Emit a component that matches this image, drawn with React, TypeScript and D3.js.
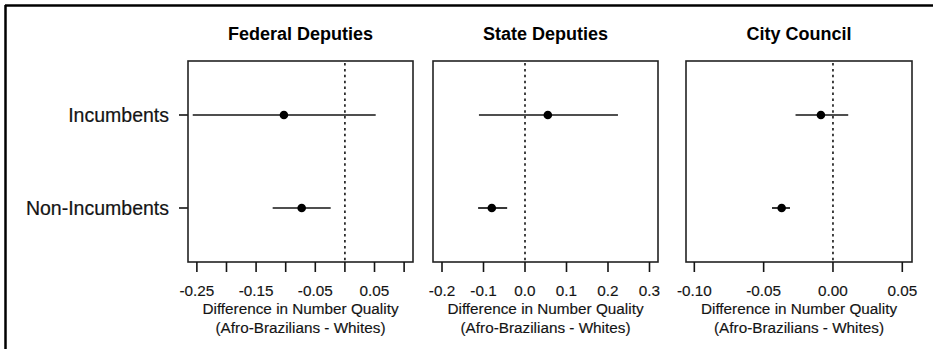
import React from "react";
import * as d3 from "d3";

const panelTitles = ["Federal Deputies", "State Deputies", "City Council"];
const groups = ["Incumbents", "Non-Incumbents"];
const estimates = [
  [-0.103, -0.073],
  [0.055, -0.08],
  [-0.0087, -0.037],
];
const lowerCI = [
  [-0.257, -0.122],
  [-0.111, -0.113],
  [-0.027, -0.044],
];
const upperCI = [
  [0.052, -0.024],
  [0.224, -0.043],
  [0.011, -0.031],
];
const tickValues = [
  [-0.25, -0.2, -0.15, -0.1, -0.05, 0, 0.05, 0.1],
  [-0.2, -0.1, 0, 0.1, 0.2, 0.3],
  [-0.1, -0.05, 0, 0.05],
];
const tickLabels = [
  ["-0.25", "", "-0.15", "", "-0.05", "", "0.05", ""],
  ["-0.2", "-0.1", "0.0", "0.1", "0.2", "0.3"],
  ["-0.10", "-0.05", "0.00", "0.05"],
];
const domains: [number, number][] = [
  [-0.265, 0.115],
  [-0.2217, 0.3205],
  [-0.106, 0.057],
];
const axisTitle1 = "Difference in Number Quality";
const axisTitle2 = "(Afro-Brazilians - Whites)";

// layout
const W = 933;
const H = 349;
const panelX: [number, number][] = [
  [188, 413],
  [433, 658],
  [686, 912],
];
const boxTop = 61;
const boxBottom = 262;
const FONT = "'Liberation Sans', Arial, Helvetica, sans-serif";
const ink = "#141414";

export default function App() {
  const y = d3.scalePoint<string>().domain(groups).range([115, 208]);
  return (
    <svg
      width={W}
      height={H}
      style={{ position: "fixed", left: 0, top: 0, background: "#fff" }}
      fontFamily={FONT}
    >
      <rect x={0} y={0} width={W} height={H} fill="#fff" />
      {/* outer frame (top and left only) */}
      <line x1={5} y1={5.5} x2={W} y2={5.5} stroke="#000" strokeWidth={2.5} />
      <line x1={5.5} y1={5} x2={5.5} y2={H} stroke="#000" strokeWidth={2.5} />

      {/* y labels */}
      {groups.map((g) => (
        <g key={g}>
          <line x1={179} x2={188} y1={y(g)} y2={y(g)} stroke={ink} strokeWidth={1.6} />
          <text
            x={169}
            y={(y(g) as number) + 7}
            textAnchor="end"
            fontSize={19.5}
            fill={ink}
            stroke={ink}
            strokeWidth={0.2}
          >
            {g}
          </text>
        </g>
      ))}

      {panelTitles.map((title, p) => {
        const x = d3.scaleLinear().domain(domains[p]).range(panelX[p]);
        const cx = (panelX[p][0] + panelX[p][1]) / 2;
        return (
          <g key={title}>
            <text
              x={cx}
              y={40}
              textAnchor="middle"
              fontSize={18}
              fontWeight="bold"
              fill="#000"
            >
              {title}
            </text>
            {/* zero reference */}
            <line
              x1={x(0)}
              x2={x(0)}
              y1={boxTop + 2}
              y2={boxBottom}
              stroke={ink}
              strokeWidth={1.6}
              strokeDasharray="2.5 3.4"
            />
            {/* intervals and points */}
            {groups.map((g, i) => (
              <g key={g}>
                <line
                  x1={x(lowerCI[p][i])}
                  x2={x(upperCI[p][i])}
                  y1={y(g)}
                  y2={y(g)}
                  stroke={ink}
                  strokeWidth={1.7}
                />
                <circle cx={x(estimates[p][i])} cy={y(g)} r={4.3} fill="#000" />
              </g>
            ))}
            {/* box */}
            <rect
              x={panelX[p][0]}
              y={boxTop}
              width={panelX[p][1] - panelX[p][0]}
              height={boxBottom - boxTop}
              fill="none"
              stroke="#222"
              strokeWidth={1.6}
            />
            {/* ticks */}
            {tickValues[p].map((t, k) => (
              <g key={k}>
                <line
                  x1={x(t)}
                  x2={x(t)}
                  y1={boxBottom}
                  y2={boxBottom + 10}
                  stroke={ink}
                  strokeWidth={1.6}
                />
                {tickLabels[p][k] !== "" && (
                  <text
                    x={x(t)}
                    y={296}
                    textAnchor="middle"
                    fontSize={15.3}
                    fill={ink}
                    stroke={ink}
                    strokeWidth={0.15}
                  >
                    {tickLabels[p][k]}
                  </text>
                )}
              </g>
            ))}
            <text x={cx} y={314} textAnchor="middle" fontSize={15.3} fill={ink} stroke={ink} strokeWidth={0.15}>
              {axisTitle1}
            </text>
            <text x={cx} y={332.5} textAnchor="middle" fontSize={15.3} fill={ink} stroke={ink} strokeWidth={0.15}>
              {axisTitle2}
            </text>
          </g>
        );
      })}
    </svg>
  );
}
